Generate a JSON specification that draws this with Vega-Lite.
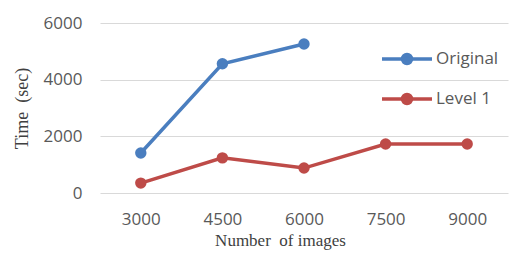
{
  "$schema": "https://vega.github.io/schema/vega-lite/v6.json",
  "width": 408,
  "height": 170,
  "autosize": {"type": "none"},
  "padding": {"left": 100, "top": 23, "right": 13, "bottom": 61},
  "background": "white",
  "config": {
    "view": {"stroke": null},
    "axis": {"labelFont": "Open Sans", "labelFontSize": 17, "labelColor": "#595959", "titleFont": "Liberation Serif", "titleFontSize": 18, "titleFontWeight": "normal", "titleColor": "#404040"},
    "legend": {"labelFont": "Open Sans", "labelFontSize": 17, "labelColor": "#595959"}
  },
  "data": {
    "values": [
      {"images": "3000", "series": "Original", "time": 1410},
      {"images": "4500", "series": "Original", "time": 4560},
      {"images": "6000", "series": "Original", "time": 5260},
      {"images": "3000", "series": "Level 1", "time": 350},
      {"images": "4500", "series": "Level 1", "time": 1240},
      {"images": "6000", "series": "Level 1", "time": 880},
      {"images": "7500", "series": "Level 1", "time": 1730},
      {"images": "9000", "series": "Level 1", "time": 1730}
    ]
  },
  "encoding": {
    "x": {
      "field": "images", "type": "ordinal", "sort": ["3000", "4500", "6000", "7500", "9000"],
      "scale": {"type": "point", "padding": 0.5},
      "axis": {"title": "Number\u00a0 of images", "titleFontSize": 17, "labelAngle": 0, "domain": false, "ticks": false, "grid": false, "labelPadding": 18, "titlePadding": 5, "titleX": 180}
    },
    "y": {
      "field": "time", "type": "quantitative",
      "scale": {"domain": [0, 6000], "nice": false},
      "axis": {"title": "Time\u00a0 (sec)", "format": "d", "values": [0, 2000, 4000, 6000], "domain": false, "ticks": false, "gridColor": "#d9d9d9", "gridWidth": 1, "labelPadding": 18, "titlePadding": 12}
    },
    "color": {
      "field": "series", "type": "nominal",
      "scale": {"domain": ["Original", "Level 1"], "range": ["#4a7ebf", "#be4b48"]},
      "legend": {
        "title": null, "orient": "none", "legendX": 280, "legendY": 9,
        "symbolType": "M-1,0H1M-0.18,0A0.18,0.18,0,1,0,0.18,0A0.18,0.18,0,1,0,-0.18,0",
        "symbolSize": 2500, "symbolStrokeWidth": 3.5, "labelOffset": 2, "rowPadding": 1
      }
    }
  },
  "layer": [
    {"mark": {"type": "line", "strokeWidth": 3.5}},
    {"mark": {"type": "point", "filled": true, "size": 130, "opacity": 1}}
  ]
}
